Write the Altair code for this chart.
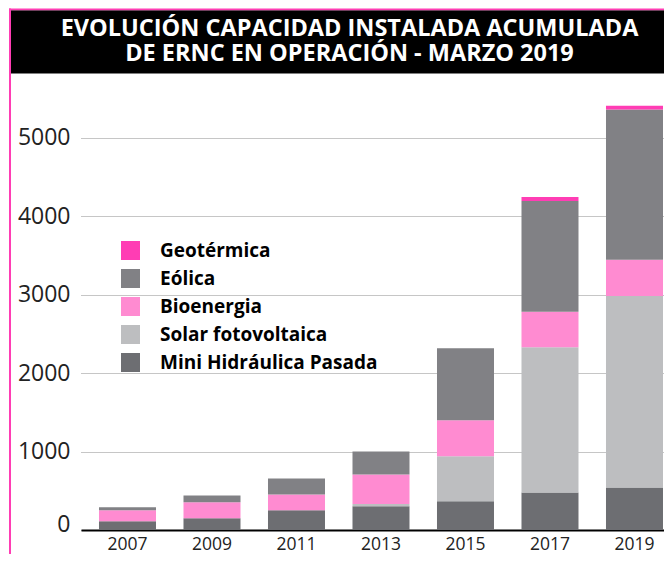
import altair as alt
import pandas as pd

# ---- data ----
YEARS = ["2007", "2009", "2011", "2013", "2015", "2017", "2019"]
MINI_HIDRAULICA = [113, 151, 252, 302, 365, 479, 542]
SOLAR_FV = [0, 0, 0, 30, 576, 1851, 2440]
BIOENERGIA = [139, 202, 201, 375, 457, 453, 462]
EOLICA = [38, 88, 202, 293, 919, 1411, 1915]
GEOTERMICA = [0, 0, 0, 0, 0, 50, 50]

SERIES_NAMES = ["Geotérmica", "Eólica", "Bioenergia", "Solar fotovoltaica", "Mini Hidráulica Pasada"]
SERIES_COLORS = ["#FF3DB4", "#818185", "#FF8BD1", "#BDBEC0", "#6D6E72"]
Y_TICKS = [0, 1000, 2000, 3000, 4000, 5000]
TITLE_LINES = ["EVOLUCIÓN CAPACIDAD INSTALADA ACUMULADA", "DE ERNC EN OPERACIÓN - MARZO 2019"]

# stacking order bottom -> top
stack_series = [
    ("Mini Hidráulica Pasada", MINI_HIDRAULICA),
    ("Solar fotovoltaica", SOLAR_FV),
    ("Bioenergia", BIOENERGIA),
    ("Eólica", EOLICA),
    ("Geotérmica", GEOTERMICA),
]
rows = []
for k, (name, vals) in enumerate(stack_series):
    for y, v in zip(YEARS, vals):
        rows.append({"year": y, "series": name, "value": v, "ord": k})
df = pd.DataFrame(rows)

W, H = 583, 455
PAD_TOP, PAD_BOTTOM = 67, 24
FONT = "Open Sans"

bars = alt.Chart(df).mark_bar(strokeWidth=0).encode(
    x=alt.X(
        "year:N", sort=YEARS,
        scale=alt.Scale(paddingInner=0.3254, paddingOuter=0.1124, align=0.947),
        axis=alt.Axis(title=None, labelAngle=0, ticks=False, domainColor="black",
                      domainWidth=2, labelFontSize=17.5, labelColor="#222222",
                      labelPadding=5, labelFont=FONT),
    ),
    y=alt.Y(
        "value:Q", stack="zero",
        scale=alt.Scale(domain=[0, 5800], nice=False),
        axis=alt.Axis(title=None, values=Y_TICKS, domain=False, ticks=False, grid=True,
                      gridColor="#8c8c8c", gridDash=[1, 1], gridWidth=1,
                      labelFontSize=23, labelColor="#222222", labelFont=FONT,
                      labelPadding=11, labelFlush=True, labelFlushOffset=6, format="d"),
    ),
    color=alt.Color(
        "series:N",
        scale=alt.Scale(domain=SERIES_NAMES, range=SERIES_COLORS),
        legend=alt.Legend(title=None, orient="none", legendX=40, legendY=166,
                          symbolType="square", symbolSize=361, symbolStrokeWidth=0,
                          symbolOpacity=1,
                          labelFontSize=19, labelFontWeight="bold", labelColor="black",
                          labelFont=FONT, labelOffset=20, rowPadding=8, labelLimit=400,
                          padding=0),
    ),
    order=alt.Order("ord:Q", sort="ascending"),
)

# decorations, positioned relative to the plot area
deco = pd.DataFrame({"k": [0]})
black_box = alt.Chart(deco).mark_rect(color="black").encode(
    x=alt.value(-70), x2=alt.value(W), y=alt.value(-64.8), y2=alt.value(-1.5)
)
pink_top = alt.Chart(deco).mark_rect(color="#FF3DB4").encode(
    x=alt.value(-72), x2=alt.value(W), y=alt.value(-66.6), y2=alt.value(-64.8)
)
pink_left = alt.Chart(deco).mark_rect(color="#FF3DB4").encode(
    x=alt.value(-72), x2=alt.value(-70), y=alt.value(-66.6), y2=alt.value(H + PAD_BOTTOM)
)
title = alt.Chart(pd.DataFrame({"t": ["\n".join(TITLE_LINES)]})).mark_text(
    font=FONT, fontSize=23.5, fontWeight="bold", color="white", align="center",
    baseline="alphabetic", lineBreak="\n", lineHeight=25.5
).encode(text="t:N", x=alt.value(268.5), y=alt.value(-39.5))

chart = alt.layer(black_box, pink_top, pink_left, title, bars).properties(
    width=W, height=H,
    padding={"left": 73, "top": PAD_TOP, "right": 0, "bottom": PAD_BOTTOM},
    autosize=alt.AutoSizeParams(type="none"),
    background="white",
).configure_view(stroke=None)

chart.save("out.html", embed_options={"renderer": "svg", "actions": False})
